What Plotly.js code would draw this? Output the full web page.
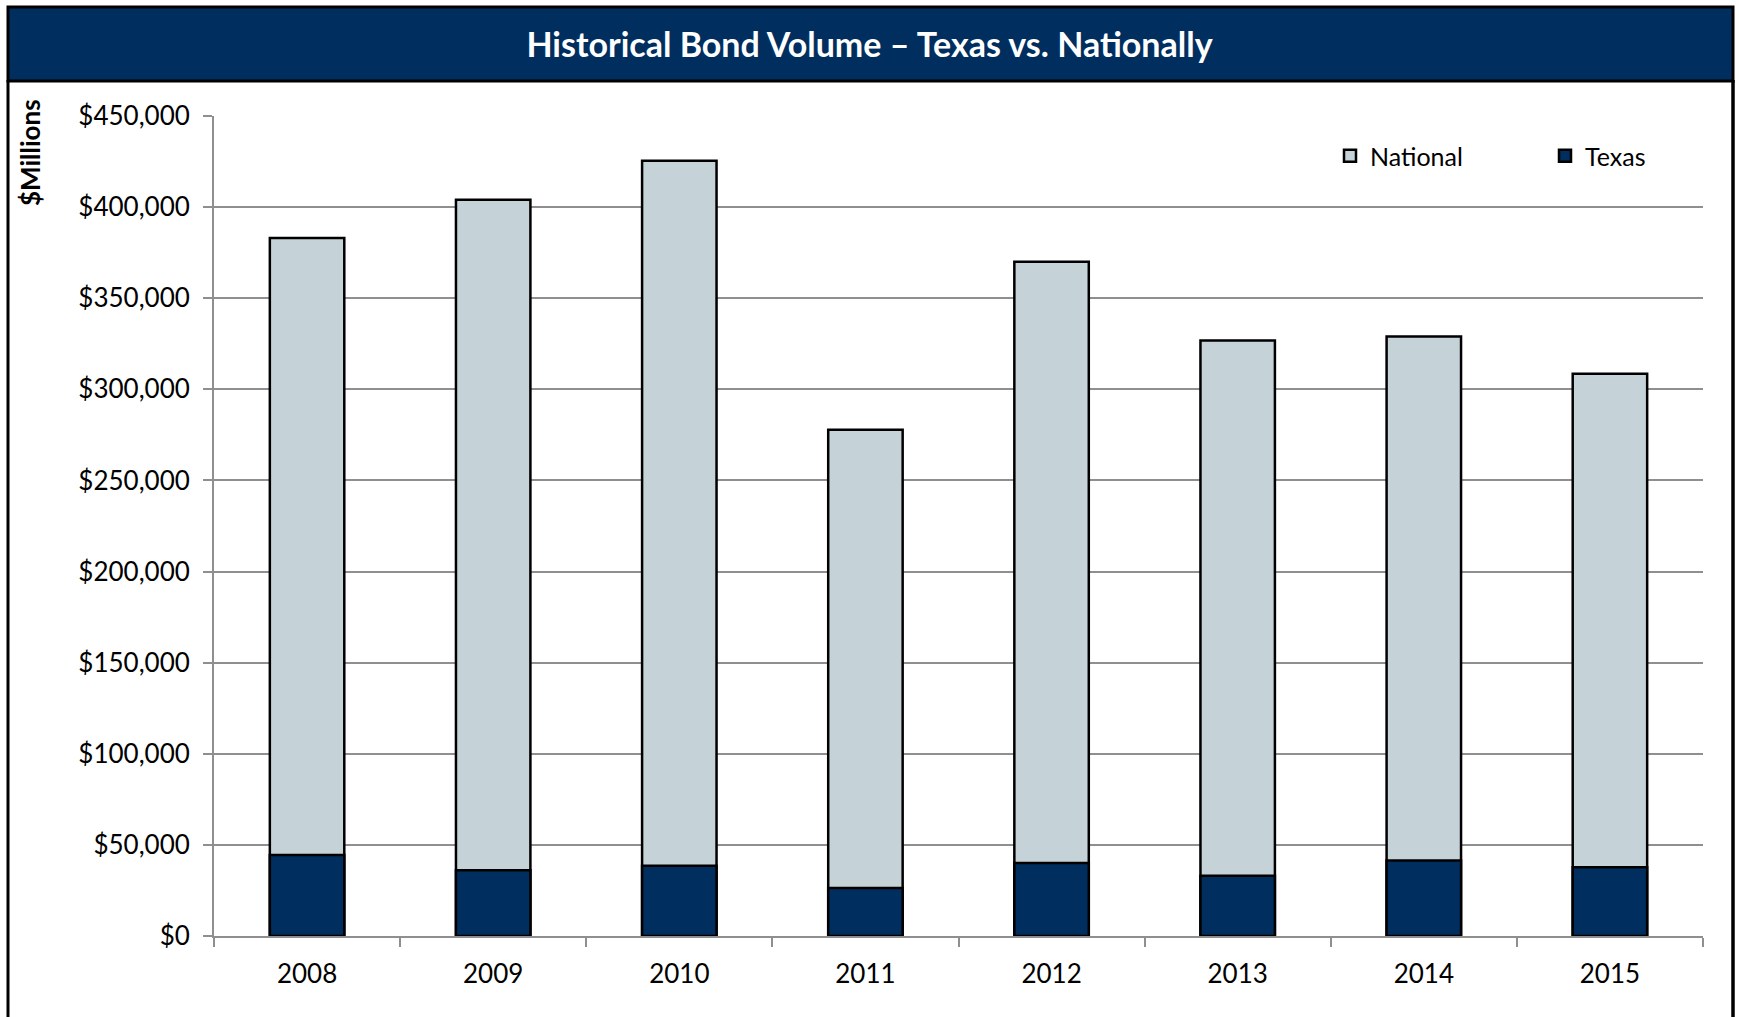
<!DOCTYPE html>
<html>
<head>
<meta charset="utf-8">
<script src="https://cdn.plot.ly/plotly-3.0.1.min.js"></script>
<style>
  html, body { margin: 0; padding: 0; background: #ffffff; }
  #chart { width: 1739px; height: 1017px; }
</style>
</head>
<body>
<div id="chart"></div>
<script>
// ---- Data ----
const years = ["2008", "2009", "2010", "2011", "2012", "2013", "2014", "2015"];
const nationalVolume = [383000, 404100, 425500, 277800, 370000, 326800, 329000, 308500];
const texasVolume = [44400, 36100, 38500, 26400, 40000, 33100, 41500, 37700];
const seriesNames = ["National", "Texas"];
const chartTitle = "Historical Bond Volume \u2013 Texas vs. Nationally";
const yAxisLabel = "$Millions";

// ---- Styling ----
const NAVY = "#002E5F";
const LIGHT = "#C5D3D8";
const GRID = "#8F8F8F";
const W = 1739, H = 1017;
const M = { l: 214, r: 36, t: 116, b: 81 };
const PW = W - M.l - M.r, PH = H - M.t - M.b;
// pixel -> paper helpers for decorative frame shapes
const px = x => (x - M.l) / PW;
const py = y => (H - M.b - y) / PH;

const traces = [
  {
    type: "bar", name: seriesNames[0], x: years, y: nationalVolume,
    marker: { color: LIGHT, line: { color: "#000000", width: 2.5 } },
    legend: "legend",
    hoverinfo: "x+y+name"
  },
  {
    type: "bar", name: seriesNames[1], x: years, y: texasVolume,
    marker: { color: NAVY, line: { color: "#000000", width: 2.5 } },
    legend: "legend2",
    hoverinfo: "x+y+name"
  }
];

const legendCommon = {
  font: { size: 25 },
  itemwidth: 30,
  bgcolor: "rgba(0,0,0,0)",
  yanchor: "middle",
  xanchor: "left"
};

const layout = {
  width: W, height: H,
  margin: M,
  paper_bgcolor: "#ffffff",
  plot_bgcolor: "#ffffff",
  font: { family: "Lato, 'Open Sans', sans-serif", color: "#000000", size: 26 },
  barmode: "overlay",
  bargap: 0.6,
  showlegend: true,
  title: {
    text: "<b>" + chartTitle + "</b>",
    font: { family: "Lato, 'Open Sans', sans-serif", size: 34, color: "#ffffff" },
    x: 0.5, xref: "container", xanchor: "center",
    y: 1 - 45 / H, yref: "container", yanchor: "middle"
  },
  xaxis: {
    type: "category",
    showline: true, linecolor: GRID, linewidth: 2,
    ticks: "outside", tickson: "boundaries", ticklen: 9, tickwidth: 2, tickcolor: GRID,
    showgrid: false, zeroline: false,
    tickfont: { size: 26 },
    ticklabelstandoff: 14,
    fixedrange: true
  },
  yaxis: {
    range: [0, 450000], dtick: 50000, tick0: 0,
    tickprefix: "$", tickformat: ",d",
    showline: true, linecolor: GRID, linewidth: 2,
    ticks: "outside", ticklen: 9, tickwidth: 2, tickcolor: GRID,
    showgrid: true, gridcolor: GRID, gridwidth: 2,
    zeroline: false,
    tickfont: { size: 26 },
    ticklabelstandoff: 8,
    fixedrange: true
  },
  legend: Object.assign({}, legendCommon, { x: px(1330), y: py(156) }),
  legend2: Object.assign({}, legendCommon, { x: px(1545), y: py(156) }),
  annotations: [
    {
      text: "<b>" + yAxisLabel + "</b>",
      xref: "paper", yref: "paper",
      x: px(30), y: py(153),
      xanchor: "center", yanchor: "middle",
      textangle: -90, showarrow: false,
      font: { size: 26, color: "#000000" }
    }
  ],
  shapes: [
    // outer frame left and right edges
    { type: "line", xref: "paper", yref: "paper", x0: px(8), x1: px(8), y0: py(80), y1: py(H + 5),
      line: { color: "#000000", width: 3 }, layer: "above" },
    { type: "line", xref: "paper", yref: "paper", x0: px(1733), x1: px(1733), y0: py(80), y1: py(H + 5),
      line: { color: "#000000", width: 3.5 }, layer: "above" },
    // title bar
    { type: "rect", xref: "paper", yref: "paper", x0: px(8), x1: px(1733), y0: py(81), y1: py(7),
      fillcolor: NAVY, line: { color: "#000000", width: 3 }, layer: "below" }
  ]
};

Plotly.newPlot("chart", traces, layout, { displayModeBar: false });
</script>
</body>
</html>
